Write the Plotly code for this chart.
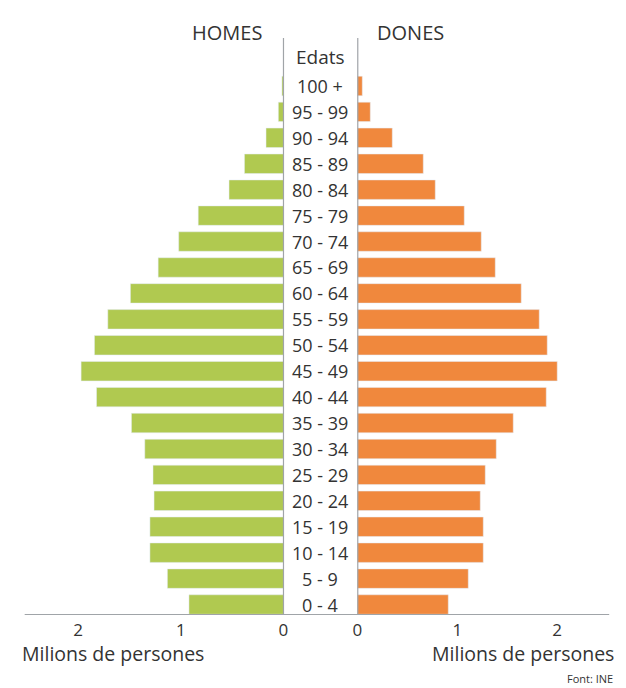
import plotly.graph_objects as go

ages = ["0 - 4", "5 - 9", "10 - 14", "15 - 19", "20 - 24", "25 - 29", "30 - 34",
        "35 - 39", "40 - 44", "45 - 49", "50 - 54", "55 - 59", "60 - 64", "65 - 69",
        "70 - 74", "75 - 79", "80 - 84", "85 - 89", "90 - 94", "95 - 99", "100+"]
homes = [0.92, 1.13, 1.30, 1.30, 1.26, 1.27, 1.35, 1.48, 1.82, 1.97, 1.84, 1.71,
         1.49, 1.22, 1.02, 0.83, 0.53, 0.38, 0.17, 0.05, 0.015]
dones = [0.91, 1.11, 1.26, 1.26, 1.23, 1.28, 1.39, 1.56, 1.89, 2.00, 1.90, 1.82,
         1.64, 1.38, 1.24, 1.07, 0.78, 0.66, 0.35, 0.13, 0.05]
tick_vals = [0, 1, 2]
tick_text = ["0", "1", "2"]

W, H = 626, 688
FONT = "Open Sans"
TXT = "#333333"
GREEN = "#b0c950"
ORANGE = "#f0883d"

def px(x):
    return x / W

def py(y):
    return 1 - y / H

fig = go.Figure()
fig.add_trace(go.Bar(y=ages, x=homes, orientation="h", marker_color=GREEN,
                     xaxis="x", yaxis="y", showlegend=False, hoverinfo="x+y"))
fig.add_trace(go.Bar(y=ages, x=dones, orientation="h", marker_color=ORANGE,
                     xaxis="x2", yaxis="y2", showlegend=False, hoverinfo="x+y"))

ydom = [py(617.5), py(73)]
tickfont = dict(size=17, color=TXT, family=FONT)
fig.update_layout(
    width=W, height=H,
    margin=dict(l=0, r=0, t=0, b=0),
    paper_bgcolor="white", plot_bgcolor="white",
    bargap=0.25,
    font=dict(family=FONT, color=TXT),
    xaxis=dict(domain=[px(22), px(283)], range=[2.5, 0], tickvals=tick_vals,
               ticktext=tick_text, showgrid=False, zeroline=False, showline=False,
               ticks="", tickfont=tickfont, fixedrange=True),
    xaxis2=dict(domain=[px(358), px(612)], range=[0, 2.5], tickvals=tick_vals,
                ticktext=tick_text, showgrid=False, zeroline=False, showline=False,
                ticks="", tickfont=tickfont, fixedrange=True),
    yaxis=dict(domain=ydom, anchor="x", showticklabels=False, showgrid=False,
               zeroline=False, categoryorder="array", categoryarray=ages, range=[-0.5, 20.5]),
    yaxis2=dict(domain=ydom, anchor="x2", showticklabels=False, showgrid=False,
                zeroline=False, categoryorder="array", categoryarray=ages, range=[-0.5, 20.5]),
)

line_style = dict(color="#a0a4a8", width=1.2)
shapes = [
    dict(type="line", xref="paper", yref="paper", x0=px(20), x1=px(614),
         y0=py(614.5), y1=py(614.5), line=line_style),
    dict(type="line", xref="paper", yref="paper", x0=px(283), x1=px(283),
         y0=py(614.5), y1=py(38), line=line_style),
    dict(type="line", xref="paper", yref="paper", x0=px(358.5), x1=px(358.5),
         y0=py(614.5), y1=py(38), line=line_style),
]
fig.update_layout(shapes=shapes)

ann = []
for a in ages:
    ann.append(dict(x=px(320.5), xref="paper", y=a, yref="y", text=a.replace("100+", "100 +"),
                    showarrow=False, font=dict(size=18, color=TXT, family=FONT),
                    xanchor="center", yanchor="middle"))
ann.append(dict(x=px(320.5), xref="paper", y=py(57), yref="paper", text="Edats",
                showarrow=False, font=dict(size=19, color=TXT, family=FONT),
                xanchor="center", yanchor="middle"))
ann.append(dict(x=px(226), xref="paper", y=py(33), yref="paper", text="HOMES",
                showarrow=False, font=dict(size=20, color=TXT, family=FONT),
                xanchor="center", yanchor="middle"))
ann.append(dict(x=px(412.5), xref="paper", y=py(33), yref="paper", text="DONES",
                showarrow=False, font=dict(size=20, color=TXT, family=FONT),
                xanchor="center", yanchor="middle"))
ann.append(dict(x=px(15), xref="paper", y=py(653), yref="paper", text="Milions de persones",
                showarrow=False, font=dict(size=19.5, color=TXT, family=FONT),
                xanchor="left", yanchor="middle"))
ann.append(dict(x=px(621), xref="paper", y=py(653), yref="paper", text="Milions de persones",
                showarrow=False, font=dict(size=19.5, color=TXT, family=FONT),
                xanchor="right", yanchor="middle"))
ann.append(dict(x=px(620), xref="paper", y=py(678), yref="paper", text="Font: INE",
                showarrow=False, font=dict(size=11, color=TXT, family=FONT),
                xanchor="right", yanchor="middle"))
fig.update_layout(annotations=ann)

fig.write_html("out.html", config={"displayModeBar": False},
               post_script="document.body.style.margin='0';document.body.style.overflow='hidden';")
